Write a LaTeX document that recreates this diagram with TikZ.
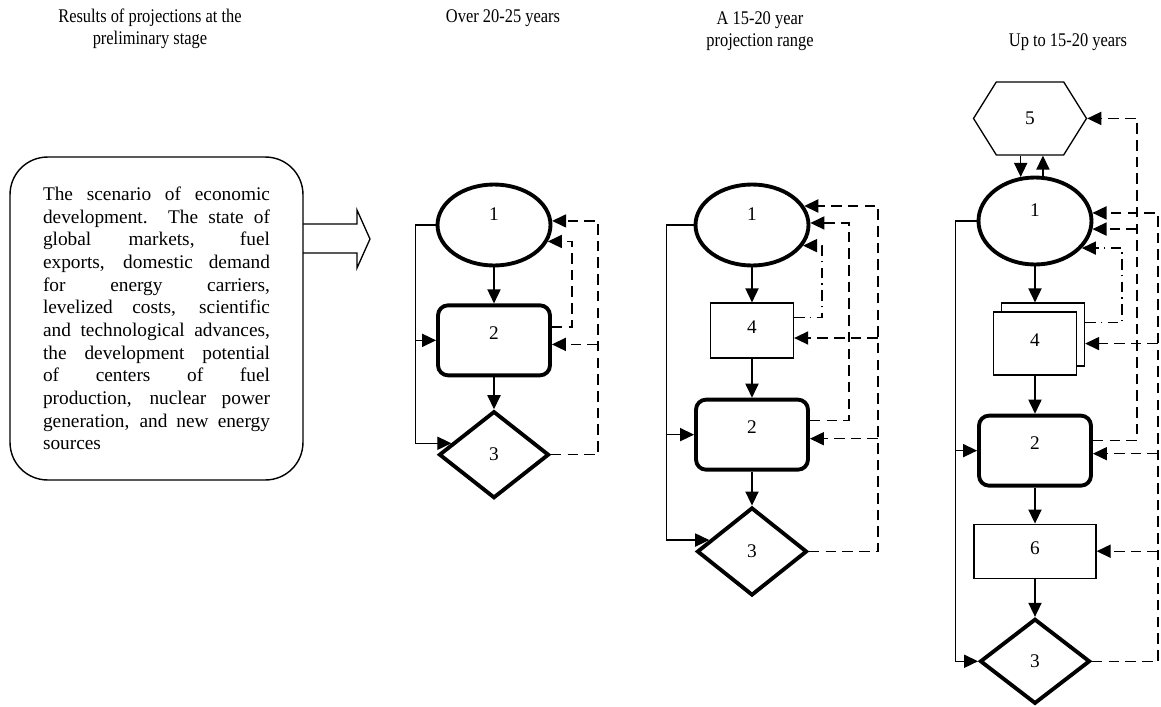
\documentclass[tikz,border=0pt]{standalone}
\usepackage{fontspec}
\setmainfont{Liberation Serif}
\newfontfamily\headfont[FakeStretch=0.85]{Liberation Serif}
\usetikzlibrary{arrows.meta,positioning,shapes.geometric,shapes.symbols,shadows}

\begin{document}
\begin{tikzpicture}[x=0.02cm, y=-0.02cm, font=\fontsize{11}{12.9}\selectfont,
	arr/.style={-{Triangle[length=8pt,width=7.5pt]}, line width=0.75pt},
	fb/.style={dash pattern=on 6pt off 3.5pt},
	fbdot/.style={dash pattern=on 6pt off 3pt on 0.8pt off 3pt},
	oval/.style={ellipse, draw, line width=2.2pt, inner sep=0pt, text depth=0.45cm, minimum width=2.26cm, minimum height=1.62cm},
	block/.style={rectangle, rounded corners=0.2cm, draw, line width=2.2pt, text depth=0.3cm, minimum width=2.24cm, minimum height=1.4cm},
	check/.style={diamond, draw, line width=2.2pt, inner sep=0pt, minimum width=2.2cm, minimum height=1.74cm},
	plain/.style={rectangle, draw, line width=0.75pt, text depth=0.12cm, minimum width=1.66cm, minimum height=1.1cm},
	hexa/.style={signal, signal to=east and west, signal pointer angle=116, draw, line width=0.75pt, minimum width=2.26cm, minimum height=1.46cm},
	head/.style={align=center, font=\headfont\fontsize{11}{12.5}\selectfont}]
	\useasboundingbox (0,0) rectangle (1161,707);

	% column headings
	\node[head] (h1) at (150,29) {Results of projections at the\\preliminary stage};
	\node[head] (h2) at (503,18) {Over 20-25 years};
	\node[head] (h3) at (760,31) {A 15-20 year\\projection range};
	\node[head] (h4) at (1068,42) {Up to 15-20 years};

	% preliminary stage
	\node[draw, line width=0.8pt, rounded corners=0.75cm, minimum width=5.86cm, minimum height=6.46cm,
		text width=4.54cm, align=justify] (scen) at (156.5,318.5)
		{The scenario of economic\linebreak development.\ \ The state of\linebreak global markets, fuel\linebreak
		exports, domestic demand\linebreak for energy carriers,\linebreak levelized costs, scientific\linebreak
		and technological advances,\linebreak the development potential\linebreak of centers of fuel\linebreak
		production, nuclear power\linebreak generation, and new energy\linebreak sources};
	\draw[line width=0.75pt] (303,224) -- (357,224) -- (357,210) -- (370,239) -- (357,268) -- (357,253) -- (303,253);

	% over 20-25 years
	\node[oval] (e1c2) at (494,225) {1};
	\node[block, below=0.72cm of e1c2] (r2c2) {2};
	\node[check, below=0.64cm of r2c2] (d3c2) {3};
	\draw[arr] (e1c2) -- (r2c2);
	\draw[arr] (r2c2) -- (d3c2);
	\draw[arr] (e1c2.west) -- ++(-20,0) coordinate (lc2) |- (d3c2.165);
	\draw[arr] (lc2 |- r2c2.west) -- (r2c2.west);
	\draw[arr, fb] (d3c2.east) -- ++(47,0) coordinate (rc2) |- (e1c2.4);
	\draw[arr, fb] (rc2 |- r2c2.-4) -- (r2c2.-4);
	\draw[arr, fb] (r2c2.13) -- ++(20,0) |- (e1c2.-17);

	% 15-20 year range
	\node[oval] (e1c3) at (752,225) {1};
	\node[plain, below=0.7cm of e1c3] (r4c3) {4};
	\node[block, below=0.78cm of r4c3] (r2c3) {2};
	\node[check, minimum height=1.76cm, below=0.68cm of r2c3] (d3c3) {3};
	\draw[arr] (e1c3) -- (r4c3);
	\draw[arr] (r4c3) -- (r2c3);
	\draw[arr] (r2c3) -- (d3c3);
	\draw[arr] (e1c3.west) -- ++(-27,0) coordinate (lc3) |- (d3c3.165);
	\draw[arr] (lc3 |- r2c3.west) -- (r2c3.west);
	\draw[arr, fbdot] (r4c3.17) -- ++(28,0) |- (e1c3.-22);
	\draw[arr, fb] (r2c3.14) -- ++(39,0) |- (e1c3.2);
	\draw[arr, fb] (d3c3.east) -- ++(69,0) coordinate (rc3) |- (e1c3.20);
	\draw[arr, fb] (rc3 |- r4c3.-10) -- (r4c3.-10);
	\draw[arr, fb] (rc3 |- r2c3.-4) -- (r2c3.-4);

	% up to 15-20 years
	\node[oval, minimum height=1.74cm] (e1c4) at (1035,221) {1};
	\node[hexa, above=0.4cm of e1c4, xshift=-0.1cm] (h5c4) {5};
	\node[plain, fill=white, minimum height=1.26cm, below=0.9cm of e1c4,
		copy shadow={shadow xshift=0.16cm, shadow yshift=0.18cm, draw, fill=white, line width=0.75pt}] (r4c4) {4};
	\node[block, below=0.76cm of r4c4] (r2c4) {2};
	\node[plain, minimum width=2.44cm, minimum height=1.08cm, below=0.72cm of r2c4] (r6c4) {6};
	\node[check, minimum height=1.7cm, below=0.76cm of r6c4] (d3c4) {3};
	\draw[arr] (h5c4.south -| e1c4.108) -- (e1c4.108);
	\draw[arr] (e1c4.80) -- (e1c4.80 |- h5c4.south);
	\draw[arr] (e1c4) -- ([yshift=0.18cm]r4c4.north);
	\draw[arr] (r4c4) -- (r2c4);
	\draw[arr] (r2c4) -- (r6c4);
	\draw[arr] (r6c4) -- (d3c4);
	\draw[arr] (e1c4.west) -- ++(-21,0) coordinate (lc4) |- (d3c4.west);
	\draw[arr] (lc4 |- r2c4.west) -- (r2c4.west);
	\draw[arr, fbdot] ([xshift=0.16cm, yshift=0.42cm]r4c4.east) -- ++(37,0) |- (e1c4.-30);
	\draw[arr, fb] (r2c4.10) -- ++(44,0) coordinate (mc4) |- (h5c4.east);
	\draw[arr, fb] (mc4 |- e1c4.-8) -- (e1c4.-8);
	\draw[arr, fb] (d3c4.east) -- ++(66,0) coordinate (rc4) |- (e1c4.8);
	\draw[arr, fb] (rc4 |- r4c4.east) -- ([xshift=0.16cm]r4c4.east);
	\draw[arr, fb] (rc4 |- r2c4.-3) -- (r2c4.-3);
	\draw[arr, fb] (rc4 |- r6c4.east) -- (r6c4.east);
\end{tikzpicture}
\end{document}
